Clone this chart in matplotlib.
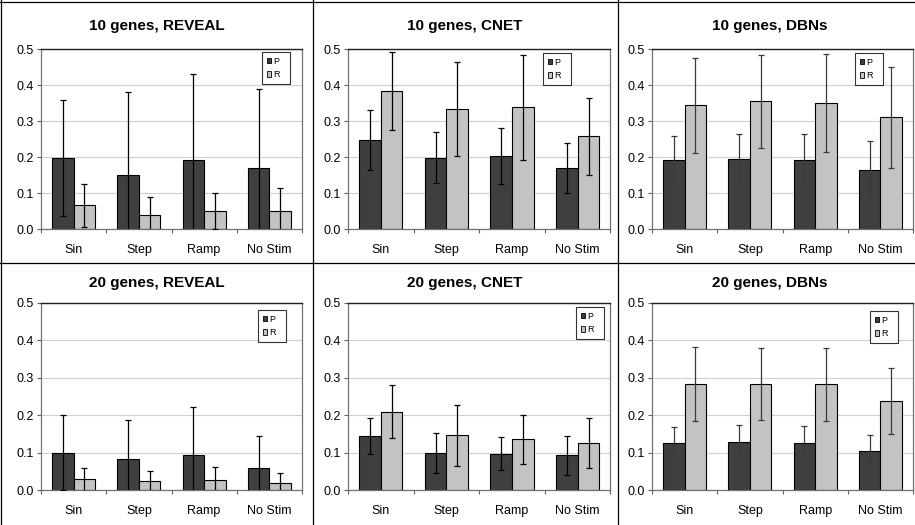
import matplotlib
matplotlib.use("Agg")
import matplotlib.pyplot as plt
from matplotlib.patches import Patch
from matplotlib.lines import Line2D
import numpy as np

plt.rcParams['font.family'] = ['Liberation Sans', 'DejaVu Sans']

# ---- data -------------------------------------------------------------
categories = ["Sin", "Step", "Ramp", "No Stim"]
series_labels = ["P", "R"]
yticks = [0.0, 0.1, 0.2, 0.3, 0.4, 0.5]

titles = ["10 genes, REVEAL", "10 genes, CNET", "10 genes, DBNs",
          "20 genes, REVEAL", "20 genes, CNET", "20 genes, DBNs"]

# mean and standard deviation, one value per stimulus
reveal10_p = [0.198, 0.151, 0.193, 0.171]
reveal10_p_err = [0.162, 0.231, 0.238, 0.218]
reveal10_r = [0.067, 0.039, 0.050, 0.052]
reveal10_r_err = [0.060, 0.050, 0.050, 0.063]

cnet10_p = [0.248, 0.199, 0.204, 0.171]
cnet10_p_err = [0.083, 0.070, 0.078, 0.070]
cnet10_r = [0.385, 0.334, 0.339, 0.259]
cnet10_r_err = [0.108, 0.130, 0.146, 0.107]

dbn10_p = [0.192, 0.195, 0.192, 0.166]
dbn10_p_err = [0.068, 0.071, 0.073, 0.079]
dbn10_r = [0.345, 0.356, 0.350, 0.311]
dbn10_r_err = [0.132, 0.129, 0.136, 0.141]

reveal20_p = [0.100, 0.083, 0.093, 0.060]
reveal20_p_err = [0.100, 0.104, 0.130, 0.084]
reveal20_r = [0.029, 0.024, 0.027, 0.019]
reveal20_r_err = [0.030, 0.028, 0.034, 0.026]

cnet20_p = [0.145, 0.100, 0.098, 0.093]
cnet20_p_err = [0.049, 0.053, 0.044, 0.051]
cnet20_r = [0.210, 0.147, 0.136, 0.126]
cnet20_r_err = [0.070, 0.081, 0.065, 0.066]

dbn20_p = [0.126, 0.129, 0.126, 0.106]
dbn20_p_err = [0.043, 0.044, 0.046, 0.042]
dbn20_r = [0.283, 0.283, 0.282, 0.237]
dbn20_r_err = [0.098, 0.096, 0.096, 0.088]

panels = [
    (reveal10_p, reveal10_p_err, reveal10_r, reveal10_r_err),
    (cnet10_p, cnet10_p_err, cnet10_r, cnet10_r_err),
    (dbn10_p, dbn10_p_err, dbn10_r, dbn10_r_err),
    (reveal20_p, reveal20_p_err, reveal20_r, reveal20_r_err),
    (cnet20_p, cnet20_p_err, cnet20_r, cnet20_r_err),
    (dbn20_p, dbn20_p_err, dbn20_r, dbn20_r_err),
]

# ---- layout (pixels) --------------------------------------------------
W, H = 915, 525
col_x = [(41, 302), (348, 610.5), (652, 913)]
row_y = [(49.3, 229.3), (302.7, 490.3)]
title_x = [157, 465, 770]
title_y = [26, 283]
legend_xy = [(262, 52), (543, 53), (855, 53), (258, 310), (576, 307), (870, 311)]
err_colors = ['black', 'black', '#3a3a3a', 'black', 'black', '#3a3a3a']

dark = '#3f3f3f'
light = '#c3c3c3'
bar_w = 0.33

fig = plt.figure(figsize=(W / 100, H / 100), dpi=100)
fig.patch.set_facecolor('white')

for i, (p, pe, r, re) in enumerate(panels):
    row, col = divmod(i, 3)
    x0, x1 = col_x[col]
    yt, yb = row_y[row]
    ax = fig.add_axes([x0 / W, 1 - yb / H, (x1 - x0) / W, (yb - yt) / H])
    x = np.arange(len(categories))
    ax.bar(x - bar_w / 2, p, width=bar_w, color=dark, edgecolor='black',
           linewidth=0.8, zorder=2)
    ax.bar(x + bar_w / 2, r, width=bar_w, color=light, edgecolor='black',
           linewidth=0.8, zorder=2)
    ax.errorbar(x - bar_w / 2, p, yerr=pe, fmt='none', ecolor=err_colors[i],
                elinewidth=0.9, capsize=2.4, capthick=0.9, zorder=3)
    ax.errorbar(x + bar_w / 2, r, yerr=re, fmt='none', ecolor=err_colors[i],
                elinewidth=0.9, capsize=2.4, capthick=0.9, zorder=3)

    ax.set_xlim(-0.5, len(categories) - 0.5)
    ax.set_ylim(0, 0.5)
    ax.set_yticks(yticks)
    ax.set_yticklabels([f"{v:.1f}" for v in yticks])
    ax.yaxis.grid(True, color='#cfcfcf', linewidth=0.8)
    ax.set_axisbelow(True)

    ax.set_xticks(np.arange(len(categories) + 1) - 0.5)
    ax.set_xticklabels([])
    ax.set_xticks(x, minor=True)
    ax.set_xticklabels(categories, minor=True)
    ax.tick_params(axis='x', which='major', length=3, width=0.8,
                   color='#606060', direction='out')
    ax.tick_params(axis='x', which='minor', length=0, pad=10.5, labelsize=9)
    ax.tick_params(axis='y', length=3, width=0.8, color='#606060',
                   pad=2, labelsize=9)

    for side in ['left', 'bottom', 'right']:
        ax.spines[side].set_color('#707070')
        ax.spines[side].set_linewidth(0.9)
    ax.spines['top'].set_color('#202020')
    ax.spines['top'].set_linewidth(1.0)

    fig.text(title_x[col] / W, 1 - title_y[row] / H, titles[i],
             ha='center', va='center', fontsize=11, fontweight='bold')

    handles = [Patch(facecolor=dark, edgecolor='black', linewidth=0.6),
               Patch(facecolor=light, edgecolor='black', linewidth=0.6)]
    lx, ly = legend_xy[i]
    leg = ax.legend(handles, series_labels, loc='upper left',
                    bbox_to_anchor=(lx / W, 1 - ly / H),
                    bbox_transform=fig.transFigure, fontsize=6.5,
                    frameon=True, fancybox=False, borderpad=0.5,
                    handlelength=0.55, handleheight=0.55, handletextpad=0.25,
                    labelspacing=0.5, borderaxespad=0)
    leg.get_frame().set_edgecolor('black')
    leg.get_frame().set_linewidth(0.8)
    # widen the legend box a little to the right
    for t in leg.get_texts():
        t.set_text(t.get_text() + "  ")

# cell borders
def vline(px):
    fig.add_artist(Line2D([px / W, px / W], [0, 1], transform=fig.transFigure,
                          color='black', linewidth=0.9))

def hline(py):
    fig.add_artist(Line2D([0, 1], [1 - py / H, 1 - py / H],
                          transform=fig.transFigure, color='black',
                          linewidth=0.9))

vline(313)
vline(617.5)
vline(1)
hline(263)
hline(1.5)

fig.savefig("out.png", dpi=100, facecolor='white')
